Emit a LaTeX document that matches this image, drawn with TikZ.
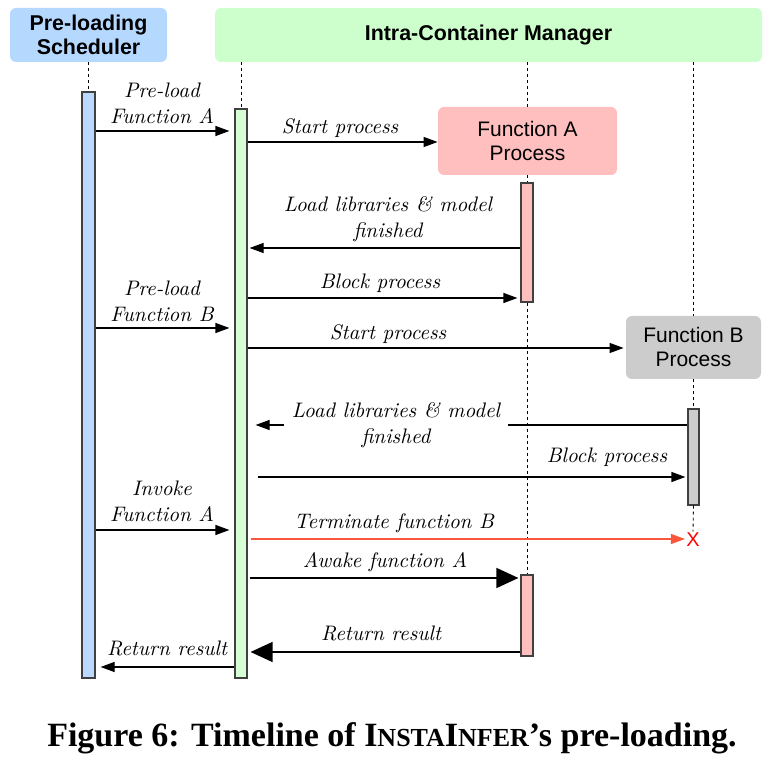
\documentclass[tikz,border=0pt]{standalone}
\usepackage{fontspec}
\setsansfont{Liberation Sans}
\newfontfamily\capfont{Liberation Serif}
\usetikzlibrary{arrows.meta,calc}

\definecolor{schedblue}{HTML}{B5D8FF}
\definecolor{mgrgreen}{HTML}{CCFFCC}
\definecolor{barblue}{HTML}{BBD8FF}
\definecolor{bargreen}{HTML}{D6FFD6}
\definecolor{procred}{HTML}{FFBFBF}
\definecolor{procgray}{HTML}{CCCCCC}
\definecolor{termred}{HTML}{F9573B}
\definecolor{barline}{HTML}{404040}

\tikzset{
  msg/.style={-{Triangle[length=7pt,width=5pt]}, line width=0.6pt},
  bigmsg/.style={-{Triangle[length=11pt,width=10pt]}, line width=0.8pt},
  life/.style={dash pattern=on 1.5pt off 1.5pt, line width=0.4pt},
  bar/.style={draw=barline, line width=0.6pt, minimum width=6.5pt, inner sep=0pt},
  hdr/.style={rounded corners=3pt, inner sep=0pt, align=center,
    font=\sffamily\bfseries\fontsize{10.7}{12}\selectfont},
  proc/.style={rounded corners=3pt, inner sep=0pt, align=center,
    font=\sffamily\fontsize{10.5}{12}\selectfont},
  lbl/.style={font=\itshape\fontsize{10.5}{13}\selectfont, align=center, inner sep=1pt},
}

\begin{document}
\begin{tikzpicture}[x=0.5pt, y=-0.5pt]
      \useasboundingbox (0,0) rectangle (784,769);
      %
      % headers
      \node[hdr, fill=schedblue, minimum width=78.5pt, minimum height=27pt] (sched) at (88.5,35) {Pre-loading\\Scheduler};
      \node[hdr, fill=mgrgreen, minimum width=273.5pt, minimum height=27pt] (mgr) at (488.5,35) {Intra-Container Manager};

      % activation bars
      \node[bar, fill=barblue, minimum height=293pt] (schedbar) at (88.5,385) {};
      \node[bar, fill=bargreen, minimum width=6pt, minimum height=284.5pt] (mgrbar) at (241,393.5) {};

      % processes
      \node[proc, fill=procred, minimum width=89.5pt, minimum height=34pt] (fa) at (527.5,141) {Function A\\Process};
      \node[proc, fill=procgray, minimum width=67.5pt, minimum height=31.5pt] (fb) at (693.5,347.5) {Function B\\Process};
      \node[bar, fill=procred, minimum width=6pt, minimum height=59.5pt] (abar1) at (527,242.5) {};
      \node[bar, fill=procred, minimum width=6pt, minimum height=40.5pt] (abar2) at (527,615.5) {};
      \node[bar, fill=procgray, minimum width=5.5pt, minimum height=48pt] (bbar) at (693.5,457) {};
      \node[text=red, font=\sffamily\fontsize{10}{10}\selectfont, inner sep=0.5pt] (xb) at (693,540) {X};

      % lifelines
      \draw[life] (sched.south -| schedbar.north) -- (schedbar.north);
      \draw[life] (mgr.south -| mgrbar.north) -- (mgrbar.north);
      \draw[life] (mgr.south -| fa.north) -- (fa.north);
      \draw[life] (fa.south -| abar1.north) -- (abar1.north);
      \draw[life] (abar1.south) -- (abar2.north);
      \draw[life] (mgr.south -| fb.north) -- (fb.north);
      \draw[life] (fb.south -| bbar.north) -- (bbar.north);
      \draw[life] (bbar.south) -- (xb.north);

      % messages
      \draw[msg, shorten >=2.5pt] (schedbar.east |- 0,131) -- (mgrbar.west |- 0,131);
      \draw[msg] (mgrbar.east |- 0,142) -- (fa.west |- 0,142);
      \draw[msg, shorten >=1pt] (abar1.west |- 0,248) -- (mgrbar.east |- 0,248);
      \draw[msg, shorten >=1.5pt] (mgrbar.east |- 0,298) -- (abar1.west |- 0,298);
      \draw[msg, shorten >=2.5pt] (schedbar.east |- 0,328) -- (mgrbar.west |- 0,328);
      \draw[msg, shorten >=1pt] (mgrbar.east |- 0,348) -- (fb.west |- 0,348);
      \draw[msg, shorten >=4pt] (bbar.west |- 0,425) -- (mgrbar.east |- 0,425);
      \draw[msg, shorten <=5pt, shorten >=1pt] (mgrbar.east |- 0,477) -- (bbar.west |- 0,477);
      \draw[msg, shorten >=2.5pt] (schedbar.east |- 0,530) -- (mgrbar.west |- 0,530);
      \draw[msg, termred, shorten <=1.5pt] (mgrbar.east |- 0,539) -- (xb.west |- 0,539);
      \draw[bigmsg, shorten <=1pt, shorten >=1pt] (mgrbar.east |- 0,578) -- (abar2.west |- 0,578);
      \draw[bigmsg, shorten >=1.5pt] (abar2.west |- 0,652) -- (mgrbar.east |- 0,652);
      \draw[msg, shorten >=2.5pt] (mgrbar.west |- 0,667) -- (schedbar.east |- 0,667);

      % labels
      \node[lbl] (lpreA) at (162,103) {Pre-load\\Function A};
      \node[lbl] (lstartA) at (340,128) {Start process};
      \node[lbl] (lloadA) at (388,219) {Load libraries \& model\\finished};
      \node[lbl] (lblockA) at (380,283) {Block process};
      \node[lbl] (lpreB) at (162,301) {Pre-load\\Function B};
      \node[lbl] (lstartB) at (388,334) {Start process};
      \node[lbl, fill=white, inner xsep=4pt] (lloadB) at (396,425) {Load libraries \& model\\finished};
      \node[lbl] (lblockB) at (607,457) {Block process};
      \node[lbl] (linvA) at (162,501) {Invoke\\Function A};
      \node[lbl] (lterm) at (394,523) {Terminate function B};
      \node[lbl] (lawake) at (385,562) {Awake function A};
      \node[lbl] (lretA) at (381,633) {Return result};
      \node[lbl] (lret) at (167,648) {Return result};

      % caption
      \node[font=\capfont\bfseries\fontsize{17}{20}\selectfont] (cap) at (392,738)
        {Figure 6: Timeline of I{\fontsize{13}{16}\selectfont NSTA}I{\fontsize{13}{16}\selectfont NFER}’s pre-loading.};
    \end{tikzpicture}
\end{document}
